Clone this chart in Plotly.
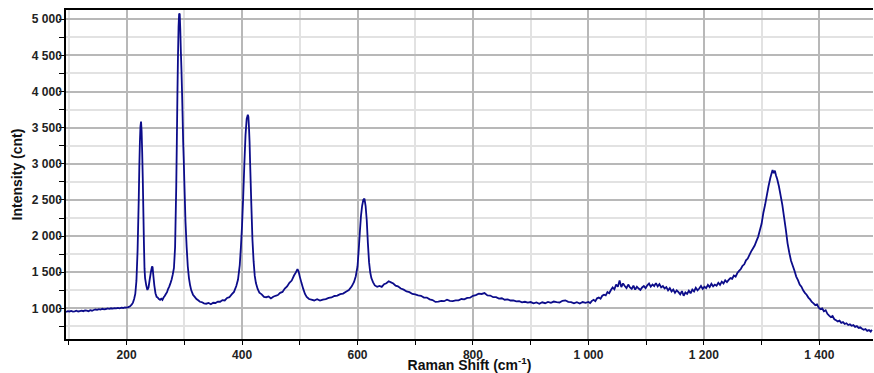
import plotly.graph_objects as go

# Raman shift (cm-1) and intensity (cnt)
shift = [
    95, 98, 101, 104, 107, 110, 113, 116, 119, 122, 125, 128, 131, 134, 137, 140, 143, 146, 149, 152, 155, 158, 161,
    164, 167, 170, 173, 176, 179, 182, 185, 188, 191, 194, 197, 200, 203, 206,
    209, 211, 213, 215, 217, 219, 221, 222, 223, 224, 225, 226, 227, 228, 229, 230, 231, 232, 234, 236, 238, 240, 242,
    244, 245, 246, 248, 250, 252, 254, 256, 258, 260, 262, 264, 266, 268, 270, 272, 274, 276, 278, 280, 282, 284, 286,
    287, 288, 289, 290, 291, 292, 293, 294, 295, 296, 297, 298, 299, 300, 302, 304, 306, 308, 310, 312, 315, 318, 321,
    324, 327, 330, 334, 338, 342, 346, 350, 354, 358, 362, 366, 370, 374, 378, 382, 386, 390, 393, 396, 398, 400, 402,
    404, 406, 408, 410, 411, 412, 413, 414, 416, 418, 420, 422, 424, 427, 430, 434, 438, 442, 446, 450, 454, 458, 462,
    466, 470, 474, 478, 482, 486, 490, 493, 496, 498, 500, 503, 506, 509, 512, 516, 520, 525, 530, 535, 540, 545, 550,
    555, 560, 565, 570, 575, 580, 585, 590, 594, 597, 600, 602, 604, 606, 608, 610, 612, 614, 616, 618, 620, 622, 624,
    627, 630, 634, 638, 642, 646, 650, 654, 658, 662, 666, 670, 675, 680, 685, 690, 695,
    700, 705, 710, 715, 720, 725, 730, 735, 740, 745, 750, 755, 760, 765, 770, 775, 780, 785, 790, 795, 800, 805, 810,
    815, 820, 825, 830, 835, 840, 845, 850, 855, 860, 865, 870, 875, 880, 885, 890, 895, 900, 905, 910, 915, 920, 925,
    930, 935, 940, 945, 950, 955, 960, 965, 970, 975, 980, 985, 990, 995,
    1000, 1003, 1006, 1009, 1012, 1015, 1018, 1021, 1024, 1027, 1030, 1033, 1036, 1039, 1042, 1045, 1048, 1051, 1054,
    1057, 1060, 1063, 1066, 1069, 1072, 1075, 1078, 1081, 1084, 1087, 1090, 1093, 1096, 1099, 1102, 1105, 1108, 1111,
    1114, 1117, 1120, 1123, 1126, 1129, 1132, 1135, 1138, 1141, 1144, 1147, 1150, 1153, 1156, 1159, 1162, 1165, 1168,
    1171, 1174, 1177, 1180, 1183, 1186, 1189, 1192, 1195, 1198, 1201, 1204, 1207, 1210, 1213, 1216, 1219, 1222, 1225,
    1228, 1231, 1234, 1237, 1240, 1243, 1246, 1249, 1252, 1255, 1258, 1261, 1264, 1267, 1270, 1273, 1276, 1279, 1282,
    1285, 1288, 1291, 1294, 1297, 1300, 1303, 1306, 1309, 1312, 1315, 1317, 1319, 1321, 1323, 1325, 1327, 1330, 1333,
    1336, 1339, 1342, 1345, 1348, 1351, 1354, 1357, 1360, 1363, 1366, 1369, 1372, 1375, 1378, 1381, 1384, 1387, 1390,
    1393, 1396, 1399, 1402, 1405, 1408, 1411, 1414, 1417, 1420, 1423, 1426, 1429, 1432, 1435, 1438, 1441, 1444, 1447,
    1450, 1453, 1456, 1459, 1462, 1465, 1468, 1471, 1474, 1477, 1480, 1483, 1486, 1489, 1491,
]
intensity = [
    950, 962, 958, 965, 955, 960, 968, 958, 964, 970, 962, 972, 968, 960, 975, 968, 978, 985, 980, 990, 984, 995, 988,
    992, 1000, 994, 1002, 997, 1005, 1000, 1008, 1002, 1010, 1006, 1014, 1012, 1018, 1030,
    1055, 1080, 1130, 1200, 1380, 1800, 2500, 2950, 3300, 3520, 3585, 3450, 3150, 2800, 2350, 1900, 1550, 1420, 1320, 1255, 1290, 1400, 1500,
    1580, 1570, 1480, 1320, 1210, 1160, 1150, 1130, 1120, 1135, 1118, 1150, 1172, 1200, 1225, 1272, 1305, 1350, 1400, 1470, 1560, 1850, 2700,
    3300, 3950, 4500, 4900, 5080, 5070, 4850, 4550, 4300, 4000, 3650, 3300, 3050, 2750, 2200, 1850, 1580, 1420, 1320, 1250, 1190, 1160, 1130,
    1112, 1092, 1088, 1070, 1065, 1075, 1058, 1078, 1075, 1095, 1092, 1115, 1110, 1145, 1155, 1195, 1228, 1310, 1400, 1600, 1850, 2150, 2550,
    3000, 3400, 3620, 3680, 3650, 3500, 3300, 3000, 2450, 1950, 1650, 1450, 1350, 1270, 1218, 1195, 1160, 1155, 1165, 1138, 1162, 1175, 1185,
    1215, 1228, 1275, 1305, 1355, 1385, 1455, 1495, 1545, 1510, 1440, 1350, 1270, 1200, 1160, 1130, 1122, 1110, 1128, 1108, 1122, 1128, 1145,
    1152, 1172, 1178, 1198, 1205, 1232, 1255, 1305, 1365, 1445, 1580, 1800, 2050, 2280, 2420, 2500, 2520, 2420, 2220, 1900, 1640, 1500, 1420,
    1360, 1318, 1300, 1312, 1298, 1335, 1348, 1375, 1360, 1345, 1315, 1305, 1275, 1260, 1235, 1225, 1200,
    1195, 1180, 1175, 1150, 1150, 1125, 1115, 1090, 1095, 1105, 1100, 1120, 1105, 1100, 1110, 1112, 1130, 1125, 1145, 1148, 1175, 1185, 1205,
    1200, 1212, 1180, 1178, 1155, 1155, 1135, 1140, 1120, 1125, 1110, 1112, 1098, 1100, 1085, 1092, 1080, 1088, 1070, 1082, 1065, 1085, 1072,
    1090, 1078, 1095, 1088, 1082, 1105, 1112, 1090, 1088, 1070, 1085, 1068, 1088, 1078,
    1090, 1075, 1105, 1120, 1100, 1140, 1150, 1135, 1175, 1190, 1180, 1225, 1210, 1255, 1290, 1265, 1330, 1300, 1385,
    1295, 1345, 1310, 1280, 1330, 1290, 1270, 1315, 1260, 1300, 1275, 1255, 1290, 1310, 1280, 1320, 1345, 1300, 1330,
    1310, 1350, 1305, 1335, 1290, 1310, 1275, 1295, 1250, 1280, 1235, 1260, 1215, 1250, 1225, 1195, 1240, 1175, 1220,
    1200, 1245, 1210, 1260, 1235, 1285, 1250, 1275, 1310, 1270, 1300, 1280, 1325, 1295, 1340, 1305, 1330, 1315, 1355,
    1325, 1370, 1345, 1390, 1365, 1395, 1420, 1410, 1455, 1440, 1490, 1520, 1545, 1590, 1610, 1665, 1690, 1740, 1790,
    1830, 1870, 1930, 1990, 2080, 2170, 2320, 2430, 2560, 2690, 2800, 2860, 2915, 2870, 2905, 2840, 2790, 2690, 2560,
    2430, 2260, 2090, 1900, 1770, 1660, 1590, 1520, 1440, 1390, 1330, 1300, 1250, 1215, 1190, 1150, 1125, 1090, 1070,
    1045, 1055, 1010, 990, 1000, 960, 975, 925, 900, 880, 895, 850, 835, 820, 830, 800, 810, 785, 795,
    770, 780, 760, 770, 745, 755, 730, 740, 720, 705, 715, 690, 700, 680, 705,
]

x_major_ticks = [200, 400, 600, 800, 1000, 1200, 1400]
y_major_ticks = [1000, 1500, 2000, 2500, 3000, 3500, 4000, 4500, 5000]

font_family = "Liberation Sans, Arial, sans-serif"

fig = go.Figure()
fig.add_trace(go.Scatter(
    x=shift, y=intensity, mode="lines",
    line=dict(color="#0c0c8a", width=1.8, simplify=False),
    showlegend=False,
))

fig.update_layout(
    width=874, height=373,
    margin=dict(l=66, r=1, t=10, b=34),
    paper_bgcolor="white", plot_bgcolor="white",
    separators=". ",
    font=dict(family=font_family, color="#222222"),
)

fig.update_xaxes(
    range=[95, 1493],
    tickmode="array", tickvals=x_major_ticks,
    separatethousands=True,
    tickfont=dict(size=12, weight="bold", color="#222222"),
    ticks="outside", ticklen=4, tickcolor="black", tickwidth=1,
    showline=True, linecolor="black", linewidth=1.5, mirror=True,
    showgrid=True, gridcolor="#b8b8b8", gridwidth=1.5,
    zeroline=False, automargin=False,
    minor=dict(dtick=100, tick0=0, ticks="outside", ticklen=4, tickcolor="black",
               showgrid=True, gridcolor="#e2e2e2", gridwidth=1.5),
    title=dict(text="Raman Shift (cm<sup>-1</sup>)", standoff=3,
               font=dict(size=14, weight="bold", color="#111111")),
)

fig.update_yaxes(
    range=[577, 5128],
    tickmode="array", tickvals=y_major_ticks,
    separatethousands=True,
    tickfont=dict(size=12, weight="bold", color="#222222"),
    ticks="", ticklen=5,
    showline=True, linecolor="black", linewidth=1.5, mirror=False,
    showgrid=True, gridcolor="#b8b8b8", gridwidth=1.5,
    zeroline=False, automargin=False,
    minor=dict(dtick=250, tick0=0, ticks="outside", ticklen=5, tickcolor="black",
               showgrid=True, gridcolor="#e2e2e2", gridwidth=1.5),
    title=dict(text="Intensity (cnt)", standoff=6,
               font=dict(size=14, weight="bold", color="#111111")),
)

fig.write_html("out.html")
